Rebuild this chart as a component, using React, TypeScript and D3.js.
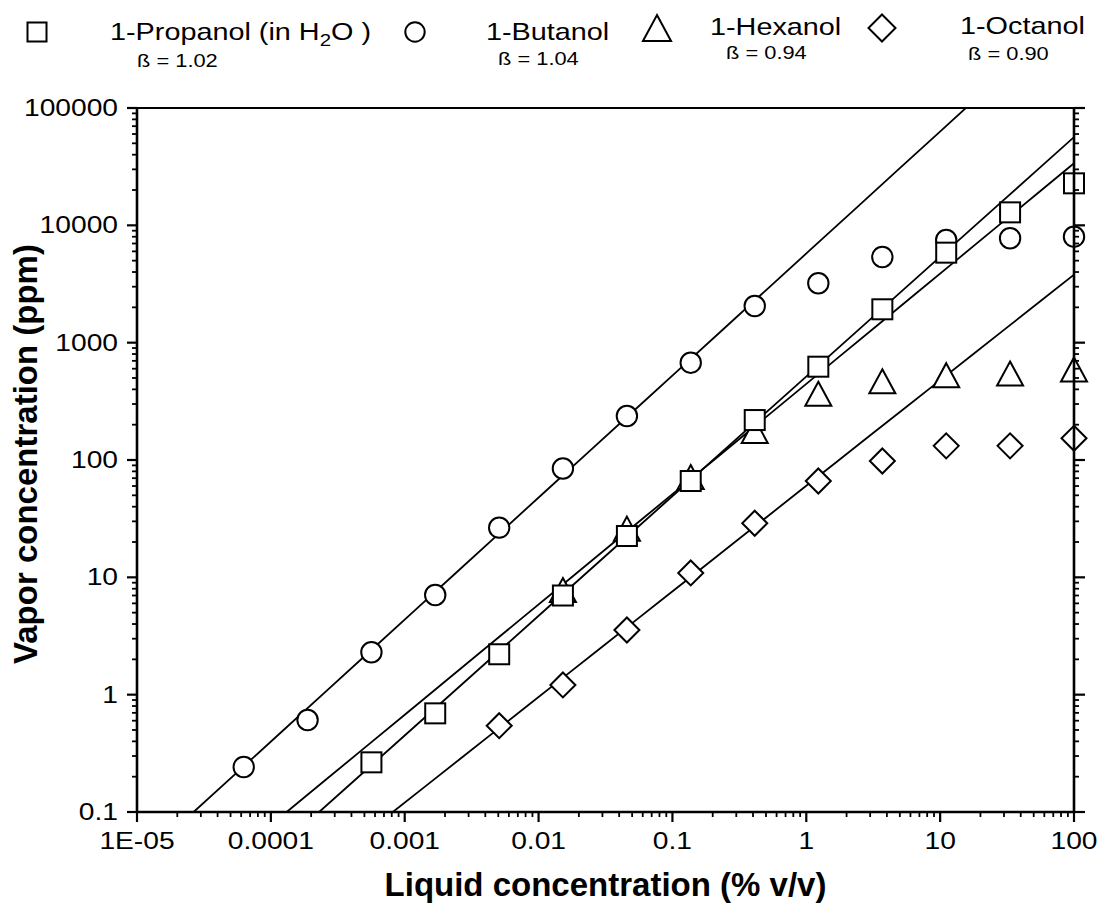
import React from "react";
import * as d3 from "d3";

// ---- data ----
const seriesNames = ["1-Propanol (in H2O)", "1-Butanol", "1-Hexanol", "1-Octanol"];
const betaLabels = ["ß = 1.02", "ß = 1.04", "ß = 0.94", "ß = 0.90"];
const fitBeta = [1.02, 1.04, 0.94, 0.9];
// log10 of vapor ppm at 1 % v/v for each fitted line
const fitLogK = [2.712, 3.76, 2.649, 1.78];

const propanolX = [0.000564, 0.00169, 0.00508, 0.0152, 0.0457, 0.137, 0.412, 1.23, 3.7, 11.1, 33.3, 100];
const propanolY = [0.265, 0.693, 2.21, 7.0, 22.5, 66.2, 219, 624, 1925, 5850, 12900, 22800];

const butanolX = [0.0000627, 0.000188, 0.000564, 0.00169, 0.00508, 0.0152, 0.0457, 0.137, 0.412, 1.23, 3.7, 11.1, 33.3, 100];
const butanolY = [0.242, 0.608, 2.3, 7.07, 26.5, 84.7, 237, 675, 2055, 3207, 5370, 7500, 7760, 8000];

const hexanolX = [0.0152, 0.0457, 0.137, 0.412, 1.23, 3.7, 11.1, 33.3, 100];
const hexanolY = [7.8, 26, 71.6, 177, 367, 469, 528, 546, 591];

const octanolX = [0.00508, 0.0152, 0.0457, 0.137, 0.412, 1.23, 3.7, 11.1, 33.3, 100];
const octanolY = [0.544, 1.21, 3.56, 10.9, 28.9, 66.2, 98, 132, 132, 153];

const xTickValues = [1e-5, 1e-4, 1e-3, 0.01, 0.1, 1, 10, 100];
const xTickLabels = ["1E-05", "0.0001", "0.001", "0.01", "0.1", "1", "10", "100"];
const yTickValues = [0.1, 1, 10, 100, 1000, 10000, 100000];
const yTickLabels = ["0.1", "1", "10", "100", "1000", "10000", "100000"];

const xTitle = "Liquid concentration (% v/v)";
const yTitle = "Vapor concentration (ppm)";

// ---- layout ----
const W = 1108;
const H = 905;
const L = 137, R = 1074, T = 108, B = 812;
const FONT = "'Liberation Sans', Arial, Helvetica, sans-serif";
const SX = 1.2; // horizontal stretch of the tick/legend lettering

type Shape = "square" | "circle" | "triangle" | "diamond";

function Marker({ shape, x, y, s = 1 }: { shape: Shape; x: number; y: number; s?: number }) {
  const st = { fill: "#fff", stroke: "#000", strokeWidth: 2 };
  if (shape === "square") {
    const a = 10 * s;
    return <rect x={x - a} y={y - a} width={2 * a} height={2 * a} {...st} />;
  }
  if (shape === "circle") return <circle cx={x} cy={y} r={10.2 * s} {...st} />;
  if (shape === "triangle") {
    const w = 13 * s, h = 12 * s;
    return <path d={`M${x},${y - h}L${x + w},${y + h}L${x - w},${y + h}Z`} {...st} strokeLinejoin="miter" />;
  }
  const d = 12.5 * s;
  return <path d={`M${x},${y - d}L${x + d},${y}L${x},${y + d}L${x - d},${y}Z`} {...st} />;
}

function SText({ x, y, children, anchor = "start", size = 23, sx = SX, weight = "normal" }: any) {
  return (
    <text
      transform={`translate(${x},${y}) scale(${sx},1)`}
      textAnchor={anchor}
      fontFamily={FONT}
      fontSize={size}
      fontWeight={weight}
      fill="#000"
    >
      {children}
    </text>
  );
}

export default function App() {
  const x = d3.scaleLog().domain([1e-5, 100]).range([L, R]);
  const y = d3.scaleLog().domain([0.1, 1e5]).range([B, T]);

  const xMinor = x.ticks().filter((v) => !xTickValues.some((m) => Math.abs(m - v) / m < 1e-6));
  const yMinor = y.ticks().filter((v) => !yTickValues.some((m) => Math.abs(m - v) / m < 1e-6));

  const line = d3
    .line<[number, number]>()
    .x((d) => x(d[0]))
    .y((d) => y(d[1]));

  const fits = fitBeta.map((b, i) => {
    const k = fitLogK[i];
    const lx0 = (-1 - k) / b; // log10 x where the line meets 0.1 ppm
    const pts: [number, number][] = [];
    for (let j = 0; j <= 20; j++) {
      const lx = lx0 + ((2 - lx0) * j) / 20;
      pts.push([Math.pow(10, lx), Math.pow(10, k + b * lx)]);
    }
    return line(pts) as string;
  });

  const series: { shape: Shape; xs: number[]; ys: number[] }[] = [
    { shape: "diamond", xs: octanolX, ys: octanolY },
    { shape: "triangle", xs: hexanolX, ys: hexanolY },
    { shape: "circle", xs: butanolX, ys: butanolY },
    { shape: "square", xs: propanolX, ys: propanolY },
  ];

  const legendShapes: Shape[] = ["square", "circle", "triangle", "diamond"];
  const legendMarkerPos = [
    [37, 32],
    [415, 32],
    [657, 28],
    [882, 28],
  ];
  const legendTextPos = [
    [110, 40],
    [486, 40],
    [710, 35],
    [960, 34],
  ];
  const betaPos = [
    [137, 67],
    [498, 65],
    [726, 59],
    [968, 60],
  ];

  return (
    <svg width={W} height={H} style={{ display: "block", position: "absolute", left: 0, top: 0 }}>
      <rect x={0} y={0} width={W} height={H} fill="#fff" />
      <defs>
        <clipPath id="plotClip">
          <rect x={L} y={T} width={R - L} height={B - T} />
        </clipPath>
      </defs>

      {/* fitted lines */}
      <g clipPath="url(#plotClip)">
        {fits.map((d, i) => (
          <path key={i} d={d} fill="none" stroke="#000" strokeWidth={1.8} />
        ))}
      </g>

      {/* markers */}
      {series.map((s, si) =>
        s.xs.map((xv, i) => <Marker key={si + "-" + i} shape={s.shape} x={x(xv)} y={y(s.ys[i])} />)
      )}

      {/* frame */}
      <line x1={L} x2={R} y1={T} y2={T} stroke="#000" strokeWidth={2.2} />
      <line x1={L} x2={L} y1={T} y2={B} stroke="#000" strokeWidth={2.6} />
      <line x1={R} x2={R} y1={T} y2={B} stroke="#000" strokeWidth={2.6} />
      <line x1={L} x2={R} y1={B} y2={B} stroke="#000" strokeWidth={2.6} />

      {/* y ticks left & right */}
      {yTickValues.map((v) => (
        <g key={"ym" + v}>
          <line x1={L - 10} x2={L} y1={y(v)} y2={y(v)} stroke="#000" strokeWidth={2.2} />
          <line x1={R} x2={R + 11} y1={y(v)} y2={y(v)} stroke="#000" strokeWidth={2.2} />
        </g>
      ))}
      {yMinor.map((v) => (
        <g key={"yn" + v}>
          <line x1={L - 5} x2={L} y1={y(v)} y2={y(v)} stroke="#000" strokeWidth={1.8} />
          <line x1={R} x2={R + 5} y1={y(v)} y2={y(v)} stroke="#000" strokeWidth={1.8} />
        </g>
      ))}
      {/* x ticks */}
      {xTickValues.map((v) => (
        <line key={"xm" + v} x1={x(v)} x2={x(v)} y1={B} y2={B + 10} stroke="#000" strokeWidth={2.2} />
      ))}
      {xMinor.map((v) => (
        <line key={"xn" + v} x1={x(v)} x2={x(v)} y1={B} y2={B + 5} stroke="#000" strokeWidth={1.8} />
      ))}

      {/* tick labels */}
      {yTickValues.map((v, i) => (
        <SText key={"yl" + v} x={118} y={y(v) + 8} anchor="end" size={23.5}>
          {yTickLabels[i]}
        </SText>
      ))}
      {xTickValues.map((v, i) => (
        <SText key={"xl" + v} x={x(v)} y={849} anchor="middle" size={23.5}>
          {xTickLabels[i]}
        </SText>
      ))}

      {/* axis titles */}
      <text x={(L + R) / 2} y={896} textAnchor="middle" fontFamily={FONT} fontWeight="bold" fontSize={33}>
        {xTitle}
      </text>
      <text
        transform={`translate(37,${(T + B) / 2 - 6}) rotate(-90)`}
        textAnchor="middle"
        fontFamily={FONT}
        fontWeight="bold"
        fontSize={33}
      >
        {yTitle}
      </text>

      {/* legend */}
      {legendShapes.map((sh, i) => (
        <g key={"lg" + i}>
          <Marker shape={sh} x={legendMarkerPos[i][0]} y={legendMarkerPos[i][1]} s={i < 2 ? 0.95 : 1.08} />
          {seriesNames[i].includes("H2O") ? (
            <SText x={legendTextPos[i][0]} y={legendTextPos[i][1]} size={24}>
              {seriesNames[i].split("H2O")[0]}H
              <tspan fontSize={17} dy={6}>2</tspan>
              <tspan dy={-6}>O )</tspan>
            </SText>
          ) : (
            <SText x={legendTextPos[i][0]} y={legendTextPos[i][1]} size={24}>
              {seriesNames[i]}
            </SText>
          )}
          <SText x={betaPos[i][0]} y={betaPos[i][1]} size={19} sx={1.15}>
            {betaLabels[i]}
          </SText>
        </g>
      ))}
    </svg>
  );
}
